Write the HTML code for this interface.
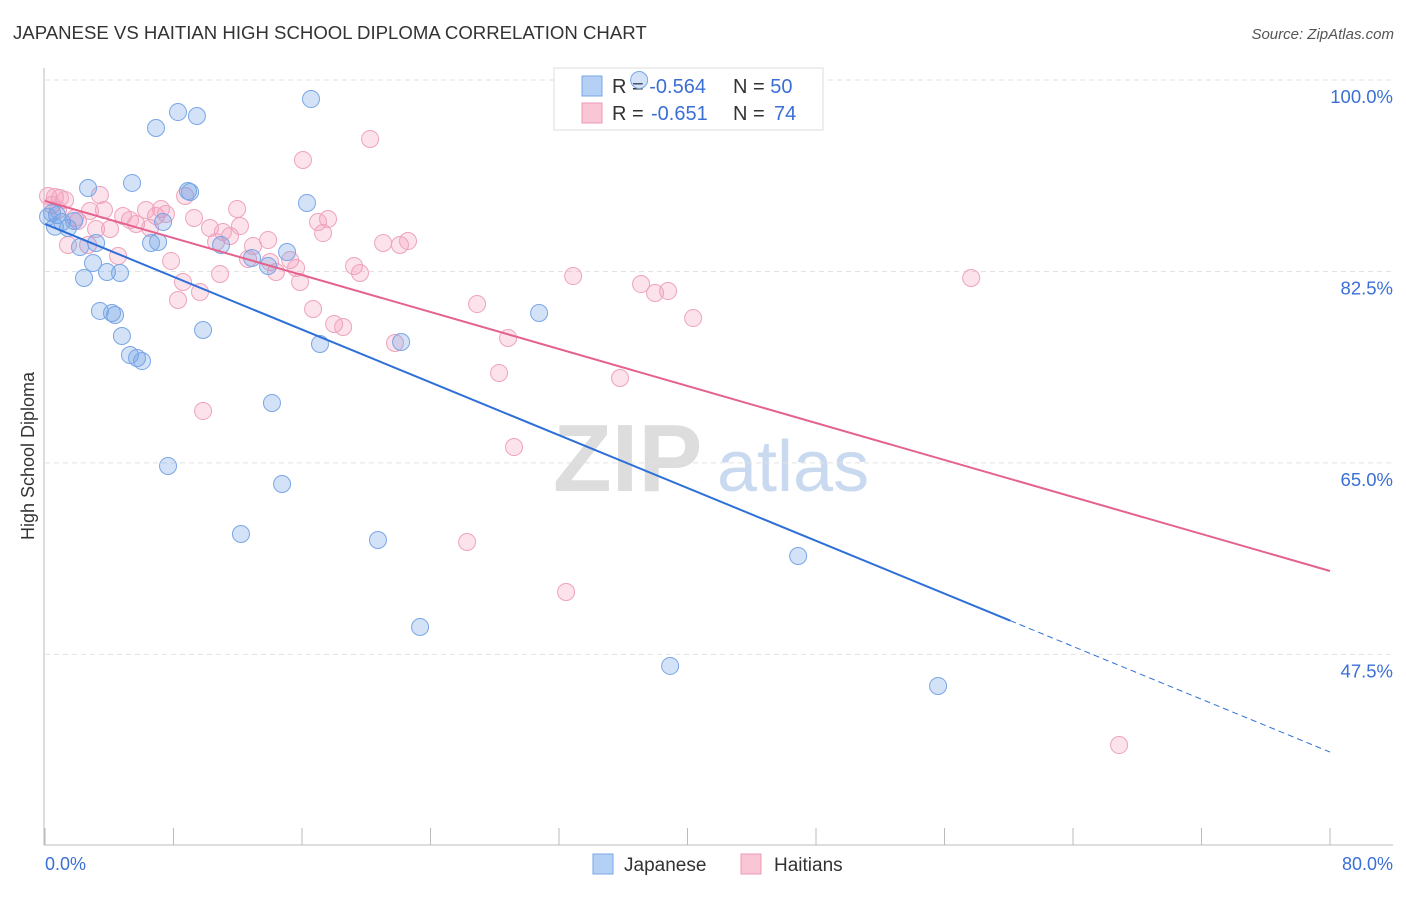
<!DOCTYPE html>
<html><head><meta charset="utf-8"><style>
body{margin:0;background:#fff;font-family:"Liberation Sans",sans-serif;}
svg text{font-family:"Liberation Sans",sans-serif;}
</style></head><body>
<svg id="chart" width="1406" height="892" xmlns="http://www.w3.org/2000/svg">
<text x="13" y="39" font-size="18.6" fill="#333">JAPANESE VS HAITIAN HIGH SCHOOL DIPLOMA CORRELATION CHART</text>
<text x="1394" y="39" font-size="15" fill="#555" text-anchor="end" font-style="italic">Source: ZipAtlas.com</text>
<g>
<text x="553" y="491" font-size="96" fill="#ddd" font-family="Liberation Serif,serif" font-weight="bold">ZIP</text>
<text x="717" y="491" font-size="72" fill="#c9daf0">atlas</text>
</g>
<g id="grid"></g>
<g id="axes"></g>
<g>
<rect x="554" y="68" width="269" height="62" fill="#fff" stroke="#ddd"/>
<rect x="582" y="76" width="20" height="20" fill="#b5d0f5" stroke="#7aa6e6"/>
<rect x="582" y="103" width="20" height="20" fill="#f9c6d6" stroke="#ec9ab6"/>
<text x="612" y="93" font-size="20" fill="#333">R = <tspan fill="#3b6fd6">-0.564</tspan><tspan x="733">N = </tspan><tspan fill="#3b6fd6">50</tspan></text>
<text x="612" y="120" font-size="20" fill="#333">R = <tspan x="651" fill="#3b6fd6">-0.651</tspan><tspan x="733">N = </tspan><tspan x="774" fill="#3b6fd6">74</tspan></text>
</g>
<g id="pink"></g>
<g id="blue"></g>
<g id="lines"></g>
<g>
<rect x="593" y="854" width="20" height="20" fill="#b5d0f5" stroke="#7aa6e6"/>
<text x="624" y="871" font-size="19" fill="#333">Japanese</text>
<rect x="741" y="854" width="20" height="20" fill="#f9c6d6" stroke="#ec9ab6"/>
<text x="774" y="871" font-size="19" fill="#333">Haitians</text>
</g>
<text transform="translate(34,456) rotate(-90)" font-size="18" fill="#333" text-anchor="middle">High School Diploma</text>
<text x="45" y="870" font-size="18" fill="#3b6fd6">0.0%</text>
<text x="1393" y="870" font-size="18" fill="#3b6fd6" text-anchor="end">80.0%</text>
</svg>
<script>
const yTicks=[100,82.5,65,47.5];
const yTickLabels=["100.0%","82.5%","65.0%","47.5%"];
const xTicks=[0,8,16,24,32,40,48,56,64,72,80];
const japX=[0.75,1.06,0.44,1.43,2.68,1.81,2.18,3.18,2.99,2.43,5.42,3.86,4.67,3.42,4.17,4.36,4.79,5.29,5.73,6.04,6.60,7.04,6.91,8.28,9.46,8.90,9.03,7.35,10.96,9.84,7.66,12.20,12.89,13.89,15.07,14.13,14.76,16.56,16.31,17.12,22.17,20.73,23.35,30.76,36.99,38.92,46.89,55.60,0.62,0.19];
const japY=[87.66,87.02,87.84,86.47,90.13,87.11,84.73,85.10,83.27,81.90,90.59,82.45,82.36,78.89,78.70,78.52,76.60,74.86,74.59,74.31,85.10,85.19,95.61,97.07,96.71,89.85,89.76,87.02,84.92,77.15,64.72,58.50,83.73,83.00,84.28,70.48,63.07,98.26,88.76,75.87,76.05,57.95,50.00,78.70,100.0,46.44,56.49,44.61,86.6,87.5];
const haiX=[0.19,0.62,0.93,0.44,1.25,0.81,1.87,2.05,1.43,2.80,3.42,3.67,4.05,3.18,2.68,4.55,4.86,5.29,5.67,6.29,6.54,6.91,7.22,7.53,7.85,8.59,8.28,8.72,9.28,9.65,9.84,10.27,10.65,10.90,11.08,11.52,11.96,12.14,12.64,12.95,13.89,14.01,14.38,15.26,15.63,15.88,16.06,16.69,17.00,17.31,17.62,18.00,18.56,19.24,19.61,20.24,21.05,21.79,22.10,22.60,26.90,28.27,28.83,29.20,26.28,32.44,32.88,35.80,37.11,37.98,38.79,40.35,57.66,66.87];
const haiY=[89.40,89.31,89.21,88.57,89.03,88.12,87.39,87.11,84.92,88.03,89.49,88.12,86.38,86.38,84.92,83.91,87.57,87.20,86.84,88.12,86.47,87.57,88.21,87.75,83.46,81.54,79.89,89.40,87.39,80.62,69.74,86.47,85.19,82.27,86.11,85.74,88.21,86.65,83.64,84.83,85.37,83.36,82.45,83.55,82.82,81.54,92.69,79.07,87.02,86.01,87.29,77.70,77.42,83.00,82.36,94.61,85.10,75.96,84.92,85.28,79.52,73.22,76.42,66.45,57.77,53.20,82.08,72.76,81.35,80.53,80.71,78.24,81.90,39.21];
const japLine=[86.84,38.57];
const haiLine=[88.94,55.12];
const japSolidEnd=60.1;
const NS="http://www.w3.org/2000/svg";
function sx(v){return 45+v*(1285/80);}
function sy(v){return 80+(100-v)*10.94;}
function mk(t,a,p){const e=document.createElementNS(NS,t);for(const k in a)e.setAttribute(k,a[k]);p.appendChild(e);return e;}
const grid=document.getElementById('grid'),axes=document.getElementById('axes');
yTicks.forEach((t,i)=>{
 const l=mk('line',{x1:45,x2:1393,y1:sy(t),y2:sy(t),stroke:'#e2e2e2','stroke-dasharray':'5,4'},grid);
 
 
 const tx=mk('text',{x:1393,y:sy(t)+23,'font-size':18.5,fill:'#3b6fd6','text-anchor':'end'},grid);
 tx.textContent=yTickLabels[i];
 
 
});
mk('line',{x1:44,x2:44,y1:68,y2:845,stroke:'#bbb'},axes);
mk('line',{x1:44,x2:1393,y1:845,y2:845,stroke:'#bbb'},axes);
xTicks.forEach(t=>{
 const l=mk('line',{x1:sx(t),x2:sx(t),y1:828,y2:845,stroke:'#bbb'},axes);
 
 
});
function pts(X,Y,g,fill,stroke,name){X.forEach((x,i)=>{
 const c=mk('circle',{cx:sx(x),cy:sy(Y[i]),r:8.5,fill:fill,stroke:stroke,'stroke-width':1},g);
 
 
});}
pts(haiX,haiY,document.getElementById('pink'),'rgba(244,160,188,0.3)','#eea3bd','haitian-point');
pts(japX,japY,document.getElementById('blue'),'rgba(110,158,230,0.3)','#7aa6e6','japanese-point');
const L=document.getElementById('lines');
function ly(a,x){return a[0]+(a[1]-a[0])*x/80;}
const p1=mk('line',{x1:sx(0),y1:sy(ly(haiLine,0)),x2:sx(80),y2:sy(ly(haiLine,80)),stroke:'#e4628d','stroke-width':2},L);


const b1=mk('line',{x1:sx(0),y1:sy(ly(japLine,0)),x2:sx(japSolidEnd),y2:sy(ly(japLine,japSolidEnd)),stroke:'#2e6fd8','stroke-width':2},L);


const b2=mk('line',{x1:sx(japSolidEnd),y1:sy(ly(japLine,japSolidEnd)),x2:sx(80),y2:sy(ly(japLine,80)),stroke:'#2e6fd8','stroke-width':1,'stroke-dasharray':'6,4'},L);


</script>
</body></html>
